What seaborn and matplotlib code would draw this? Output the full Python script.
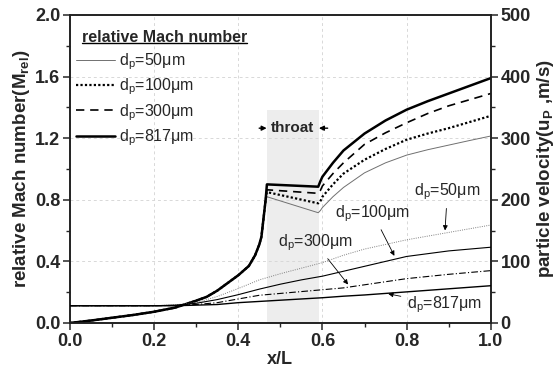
import matplotlib
matplotlib.use('Agg')
import matplotlib.pyplot as plt
import seaborn as sns
import pandas as pd
from matplotlib.lines import Line2D
from matplotlib.ticker import MultipleLocator, FormatStrFormatter

# --- data ---
# relative Mach number, converging part (common to all particle sizes)
x_conv = [0, 0.05, 0.1, 0.15, 0.2, 0.25, 0.3, 0.325, 0.35, 0.375, 0.4, 0.425, 0.44, 0.45, 0.455, 0.46, 0.465]
m_conv = [0, 0.016, 0.034, 0.052, 0.073, 0.10, 0.145, 0.17, 0.21, 0.26, 0.31, 0.37, 0.44, 0.51, 0.56, 0.68, 0.80]

# throat + diverging part
x_div = [0.468, 0.59, 0.595, 0.6, 0.625, 0.65, 0.7, 0.75, 0.8, 0.85, 0.9, 0.95, 1.0]
m_50 = [0.82, 0.716, 0.73, 0.75, 0.82, 0.88, 0.975, 1.04, 1.09, 1.125, 1.155, 1.185, 1.214]
m_100 = [0.85, 0.777, 0.79, 0.82, 0.90, 0.97, 1.06, 1.13, 1.19, 1.23, 1.265, 1.305, 1.345]
m_300 = [0.865, 0.842, 0.86, 0.89, 0.97, 1.04, 1.16, 1.235, 1.30, 1.36, 1.41, 1.45, 1.49]
m_817 = [0.90, 0.885, 0.92, 0.95, 1.04, 1.12, 1.23, 1.315, 1.385, 1.44, 1.49, 1.54, 1.59]

# particle velocity (m/s)
x_p = [0, 0.2, 0.25, 0.3, 0.35, 0.4, 0.45, 0.5, 0.55, 0.6, 0.65, 0.7, 0.8, 0.9, 1.0]
u_50 = [28, 28, 29.5, 33, 43, 56, 70, 80, 89, 98, 110, 120, 135, 147, 159]
u_100 = [28, 28, 29, 32, 38, 46, 55, 63, 70, 76, 84, 92, 108, 117, 123]
u_300 = [28, 28, 28.5, 30, 33, 39, 45, 48, 51, 54, 57, 62, 72, 79, 85]
u_817 = [28, 28, 28, 29, 30, 33, 35, 37, 39, 41, 43.5, 45.5, 50.5, 55.5, 60.5]

sizes = ['50', '100', '300', '817']
mach = {'50': m_50, '100': m_100, '300': m_300, '817': m_817}
vel = {'50': u_50, '100': u_100, '300': u_300, '817': u_817}

sns.set_theme(style='ticks')
plt.rcParams['font.family'] = ['Liberation Sans', 'DejaVu Sans']
plt.rcParams['font.weight'] = 'bold'
plt.rcParams['axes.labelweight'] = 'bold'
plt.rcParams['mathtext.fontset'] = 'custom'
plt.rcParams['mathtext.rm'] = 'Liberation Sans'
plt.rcParams['mathtext.it'] = 'Liberation Sans:italic'
plt.rcParams['mathtext.bf'] = 'Liberation Sans:bold'

mach_style = {
    '50': dict(color='#707070', lw=0.7, ls='-'),
    '100': dict(color='black', lw=1.6, ls=(0, (1, 1))),
    '300': dict(color='black', lw=1.2, ls=(0, (5, 3.5))),
    '817': dict(color='black', lw=1.8, ls='-'),
}
vel_style = {
    '50': dict(color='#808080', lw=0.7, ls=(0, (1, 1.3))),
    '100': dict(color='black', lw=0.8, ls='-'),
    '300': dict(color='black', lw=0.8, ls=(0, (6, 2, 1, 2))),
    '817': dict(color='black', lw=1.0, ls='-'),
}

fig = plt.figure(figsize=(5.57, 3.71), dpi=100)
ax = fig.add_axes([0.1257, 0.1294, 0.7553, 0.8302])
ax2 = ax.twinx()

ax.axvspan(0.468, 0.591, ymin=0, ymax=1.38 / 2.0, color='#ededed', zorder=0.2, lw=0)

handles = []
for s in sizes:
    df = pd.DataFrame({'x': x_conv + x_div, 'M': m_conv + mach[s]})
    st = mach_style[s]
    sns.lineplot(data=df, x='x', y='M', ax=ax, color=st['color'], lw=st['lw'],
                 linestyle=st['ls'], zorder=3)
    handles.append(Line2D([], [], color=st['color'], lw=st['lw'], ls=st['ls'],
                          label='d$_\\mathregular{p}$=' + s + 'μm'))

for s in sizes:
    st = vel_style[s]
    sns.lineplot(x=x_p, y=vel[s], ax=ax2, color=st['color'], lw=st['lw'],
                 linestyle=st['ls'], zorder=3)

ax.set_xlim(0, 1.0)
ax.set_ylim(0, 2.0)
ax2.set_ylim(0, 500)
ax.xaxis.set_major_locator(MultipleLocator(0.2))
ax.xaxis.set_minor_locator(MultipleLocator(0.1))
ax.yaxis.set_major_locator(MultipleLocator(0.4))
ax.yaxis.set_minor_locator(MultipleLocator(0.2))
ax2.yaxis.set_major_locator(MultipleLocator(100))
ax2.yaxis.set_minor_locator(MultipleLocator(50))
ax.xaxis.set_major_formatter(FormatStrFormatter('%.1f'))
ax.yaxis.set_major_formatter(FormatStrFormatter('%.1f'))
ax2.yaxis.set_major_formatter(FormatStrFormatter('%d'))

ax.grid(True, which='major', ls=(0, (3, 3)), color='#d8d8d8', lw=0.7)
ax.set_axisbelow(True)

for a in (ax, ax2):
    a.tick_params(which='major', direction='out', length=5, width=1.1, labelsize=13, pad=2)
    a.tick_params(which='minor', direction='out', length=3, width=1.0)
    for sp in a.spines.values():
        sp.set_linewidth(1.2)
        sp.set_color('#222222')
ax.tick_params(top=False, right=False, which='both')
ax2.tick_params(top=False, which='both')

ax.set_xlabel('x/L', fontsize=13, labelpad=1)
ax.set_ylabel('relative Mach number(M$_\\mathbf{rel}$)', fontsize=13.5, labelpad=2)
ax2.set_ylabel('particle velocity(u$_\\mathbf{P}$ ,m/s)', fontsize=13.5, labelpad=3)

# legend
title = ax.text(0.0285, 0.928, 'relative Mach number', transform=ax.transAxes,
                fontsize=11.5, fontweight='bold', ha='left', va='center')
leg = ax.legend(handles=handles, loc='upper left', bbox_to_anchor=(0.015, 0.882),
                frameon=False, prop={'size': 11.5, 'weight': 'normal'}, handlelength=2.4,
                handletextpad=0.25, labelspacing=0.3, borderaxespad=0, borderpad=0)

fig.canvas.draw()
bb = title.get_window_extent().transformed(ax.transAxes.inverted())
ax.plot([bb.x0, bb.x1], [bb.y0 + 0.006, bb.y0 + 0.006], transform=ax.transAxes,
        color='black', lw=1.0)

# throat marker
ax.annotate('', xy=(0.474, 1.265), xytext=(0.443, 1.265),
            arrowprops=dict(arrowstyle='-|>', color='black', lw=1.0, mutation_scale=7))
ax.annotate('', xy=(0.585, 1.265), xytext=(0.619, 1.265),
            arrowprops=dict(arrowstyle='-|>', color='black', lw=1.0, mutation_scale=7))
ax.text(0.529, 1.265, 'throat', fontsize=11, fontweight='bold', ha='center', va='center')

# size annotations for particle velocity
arr = dict(arrowstyle='-|>', color='black', lw=0.6, mutation_scale=7)
for lab, tip, pos in [('50', (0.891, 0.583), (0.897, 0.85)),
                      ('100', (0.774, 0.42), (0.72, 0.71)),
                      ('300', (0.665, 0.236), (0.583, 0.52)),
                      ('817', (0.75, 0.193), (0.89, 0.117))]:
    ax.annotate('d$_\\mathregular{p}$=' + lab + 'μm', xy=tip, xytext=pos,
                fontsize=11.5, fontweight='normal', ha='center', va='center', arrowprops=arr)

fig.savefig('out.png', dpi=100)
